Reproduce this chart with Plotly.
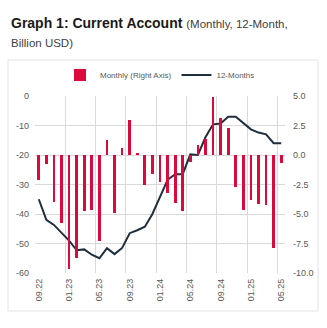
import plotly.graph_objects as go

months = ["09.22", "10.22", "11.22", "12.22",
          "01.23", "02.23", "03.23", "04.23", "05.23", "06.23", "07.23", "08.23", "09.23", "10.23", "11.23", "12.23",
          "01.24", "02.24", "03.24", "04.24", "05.24", "06.24", "07.24", "08.24", "09.24", "10.24", "11.24", "12.24",
          "01.25", "02.25", "03.25", "04.25", "05.25"]

monthly = [-2.1, -0.8, -3.95, -5.8, -9.7, -8.75, -4.75, -4.7, -7.3, 1.25, -4.95, 0.63, 2.95, 0.1,
           -2.55, -1.65, -2.25, -3.25, -4.1, -4.75, -0.56, 0.85, 1.33, 4.9, 3.17, 2.26, -2.7,
           -4.66, -3.8, -4.18, -4.23, -7.85, -0.65]

twelve_months = [-35, -42, -43.7, -46.5, -49, -52.3, -52, -53.8, -55, -51.6, -53.6, -51.5, -46.5,
                 -45.5, -44.3, -40, -34, -28.4, -26.5, -26.5, -19.8, -20, -14, -9.6, -9.3, -7, -7,
                 -9.3, -11.3, -12.4, -13, -16, -16]

left_ticks = [0, -10, -20, -30, -40, -50, -60]
right_ticks = [5.0, 2.5, 0.0, -2.5, -5.0, -7.5, -10.0]

W, H = 327, 328
ML, MR, MT, MB = 35, 42, 96, 55
PW, PH = W - ML - MR, H - MT - MB


def px(x):
    return (x - ML) / PW


def py(y):
    return (H - MB - y) / PH


idx = list(range(len(months)))
tick_idx = idx[::4]

fig = go.Figure()
fig.add_trace(go.Bar(
    x=idx, y=monthly, name="Monthly (Right Axis)", yaxis="y2",
    marker=dict(color="#DC0A3C", line=dict(width=0)), width=0.36,
))
fig.add_trace(go.Scatter(
    x=idx, y=twelve_months, name="12-Months", mode="lines",
    line=dict(color="#1F2E3D", width=2),
))

grey = "#595959"
fig.update_layout(
    width=W, height=H,
    margin=dict(l=ML, r=MR, t=MT, b=MB),
    paper_bgcolor="white", plot_bgcolor="white",
    font=dict(family="Liberation Sans, Arial, sans-serif", size=9, color=grey),
    showlegend=True,
    legend=dict(orientation="h", x=px(160), xanchor="center", y=py(75), yanchor="middle",
                font=dict(size=8, color=grey), itemwidth=30, tracegroupgap=0,
                bgcolor="rgba(0,0,0,0)"),
    bargap=0,
    xaxis=dict(
        range=[-0.5, len(months) - 0.5],
        tickmode="array", tickvals=tick_idx, ticktext=[months[i] for i in tick_idx],
        tickangle=-90, showgrid=False, zeroline=False, showline=False, ticks="",
        tickfont=dict(size=9, color=grey), ticklabelstandoff=3,
        minor=dict(tickmode="array", tickvals=[i - 0.5 for i in tick_idx],
                   showgrid=True, gridcolor="#D9D9D9", gridwidth=1, ticks=""),
    ),
    yaxis=dict(
        range=[-60, 0], tickmode="array", tickvals=left_ticks,
        ticktext=[str(v) for v in left_ticks],
        showgrid=True, gridcolor="#D9D9D9", gridwidth=1, zeroline=False, showline=False,
        tickfont=dict(size=9, color=grey), ticks="", ticklabelstandoff=5,
    ),
    yaxis2=dict(
        range=[-10, 5], overlaying="y", side="right", tickmode="array",
        tickvals=right_ticks, ticktext=[f"{v:.1f}" for v in right_ticks],
        showgrid=False, zeroline=False, showline=False,
        tickfont=dict(size=9, color=grey), ticks="", ticklabelstandoff=7,
    ),
)

# chart box
fig.add_shape(type="rect", xref="paper", yref="paper",
              x0=px(8), x1=px(318), y0=py(311), y1=py(60),
              line=dict(color="#E3E3E3", width=1), fillcolor="rgba(0,0,0,0)", layer="below")

# title
fig.add_annotation(xref="paper", yref="paper", x=px(9), y=py(23), xanchor="left", yanchor="middle",
                   showarrow=False, align="left",
                   text="<b>Graph 1: Current Account</b> <span style='font-size:11.5px;color:#404040'>(Monthly, 12-Month,</span>",
                   font=dict(family="Liberation Sans, Arial, sans-serif", size=14, color="#1A1A1A"))
fig.add_annotation(xref="paper", yref="paper", x=px(9), y=py(43), xanchor="left", yanchor="middle",
                   showarrow=False, align="left",
                   text="Billion USD)",
                   font=dict(family="Liberation Sans, Arial, sans-serif", size=11.5, color="#404040"))

fig.write_html("out.html")
